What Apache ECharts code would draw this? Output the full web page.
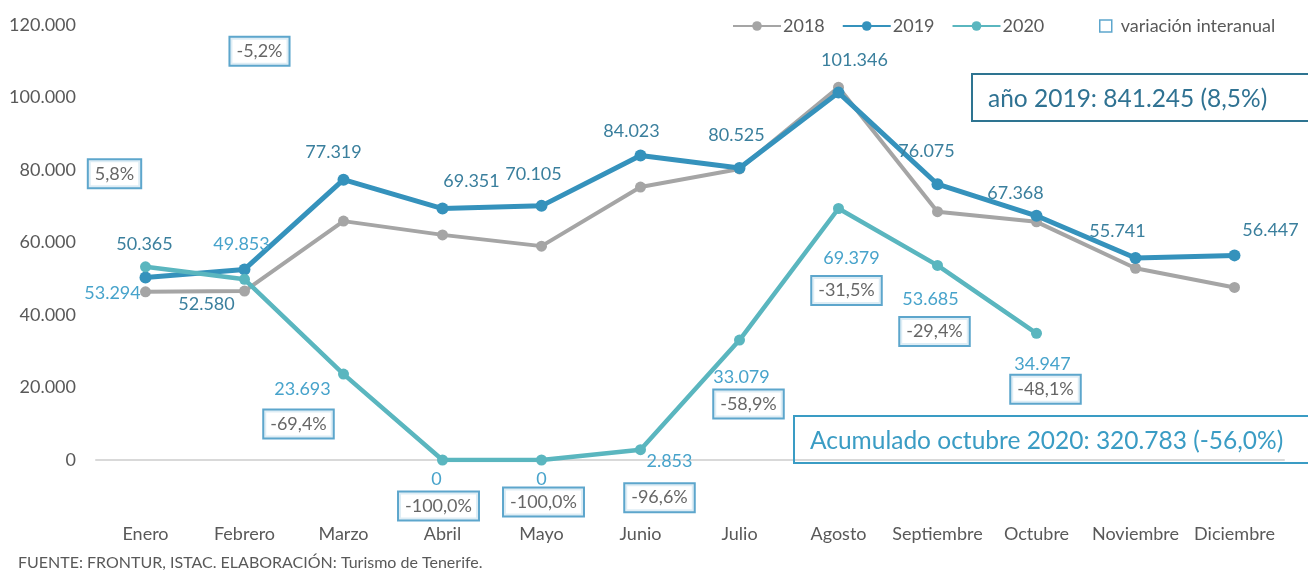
<!DOCTYPE html>
<html><head><meta charset="utf-8">
<script src="https://cdn.jsdelivr.net/npm/echarts@6/dist/echarts.min.js"></script>
<style>html,body{margin:0;padding:0;background:#fff}#c{width:1308px;height:570px}</style>
</head><body><div id="c"></div>
<script>
// ---- data ----
const months = ['Enero','Febrero','Marzo','Abril','Mayo','Junio','Julio','Agosto','Septiembre','Octubre','Noviembre','Diciembre'];
const v2018 = [46400, 46600, 65900, 62100, 59000, 75300, 80300, 102800, 68500, 65700, 52900, 47600];
const v2019 = [50365, 52580, 77319, 69351, 70105, 84023, 80525, 101346, 76075, 67368, 55741, 56447];
const v2020 = [53294, 49853, 23693, 0, 0, 2853, 33079, 69379, 53685, 34947];
const variacion = ['5,8%','-5,2%','-69,4%','-100,0%','-100,0%','-96,6%','-58,9%','-31,5%','-29,4%','-48,1%'];
const yMin = 0, yMax = 120000, yStep = 20000;
const total2019 = 'año 2019: 841.245 (8,5%)';
const acum2020 = 'Acumulado octubre 2020: 320.783 (-56,0%)';
const source = 'FUENTE: FRONTUR, ISTAC. ELABORACIÓN: Turismo de Tenerife.';

// ---- layout (label offsets, px) ----
const off19 = [[-1,-33],[-38,35],[-10,-28],[29,-27],[-8,-32],[-9,-24],[-3,-33],[16,-32],[-11,-33],[-21,-23],[-18,-27],[36,-25]];
const off20 = [[-33,26],[-3,-35],[-41,15],[-6,19],[0,19],[29,12],[2,37],[13,50],[-7,34],[6,31]];
const offVar = [[-31,-93],[15,-228],[-45,50],[-4,46],[2,42],[19,48],[9,64],[8,82],[-3,66],[9,56]];

const FONT = 'Lato, "Open Sans", sans-serif';
const C18 = '#a5a5a5', C19 = '#3592bc', C20 = '#5ab6bf';
const fmt = v => String(v).replace(/\B(?=(\d{3})+(?!\d))/g, '.');

const chart = echarts.init(document.getElementById('c'), null, {renderer:'canvas'});
chart.setOption({
  animation: false,
  backgroundColor: '#fff',
  textStyle: {fontFamily: FONT},
  grid: {left: 96, right: 24, top: 25, bottom: 110, containLabel: false},
  legend: [{
    left: 727, top: 12, itemWidth: 48, itemHeight: 12, itemGap: 17,
    data: ['2018','2019','2020'],
    textStyle: {fontSize: 18, color: '#595959', fontFamily: FONT, padding: [0,0,0,-3]}
  },{
    left: 1094, top: 12, itemWidth: 12, itemHeight: 12,
    data: [{name: 'variación interanual', icon: 'rect', itemStyle: {color: '#fff', borderColor: '#3590bf', borderWidth: 1.5}}],
    textStyle: {fontSize: 18, color: '#595959', fontFamily: FONT, padding: [0,0,0,4]}
  }],
  xAxis: {
    type: 'category', data: months, boundaryGap: true,
    axisLine: {show: true, lineStyle: {color: '#d9d9d9', width: 2}},
    axisTick: {show: false},
    axisLabel: {margin: 65, fontSize: 18, color: '#595959', fontFamily: FONT, interval: 0}
  },
  yAxis: {
    type: 'value', min: yMin, max: yMax, interval: yStep,
    axisLine: {show: false}, axisTick: {show: false}, splitLine: {show: false},
    axisLabel: {margin: 20, fontSize: 18, color: '#595959', fontFamily: FONT, formatter: fmt}
  },
  series: [
    {
      name: '2018', type: 'line', data: v2018, symbol: 'circle', symbolSize: 11,
      lineStyle: {color: C18, width: 4}, itemStyle: {color: C18}, emphasis: {disabled: true}, z: 2
    },
    {
      name: '2019', type: 'line', data: v2019.map((v,i) => ({value: v, label: {offset: off19[i]}})),
      symbol: 'circle', symbolSize: 12,
      lineStyle: {color: C19, width: 5}, itemStyle: {color: C19}, emphasis: {disabled: true}, z: 3,
      label: {show: true, position: 'inside', fontSize: 18, color: '#3a7f9d', fontFamily: FONT, formatter: p => fmt(p.value)}
    },
    {
      name: '2020', type: 'line', data: v2020.map((v,i) => ({value: v, label: {offset: off20[i]}})),
      symbol: 'circle', symbolSize: 11,
      lineStyle: {color: C20, width: 4.5}, itemStyle: {color: C20}, emphasis: {disabled: true}, z: 4,
      label: {show: true, position: 'inside', fontSize: 18, color: '#47a3cb', fontFamily: FONT, formatter: p => fmt(p.value)}
    },
    {
      name: 'variación interanual', type: 'scatter', symbolSize: 0, z: 6,
      data: v2020.map((v,i) => ({value: v, label: {offset: offVar[i]}})),
      itemStyle: {color: '#fff', borderColor: '#3590bf'},
      emphasis: {disabled: true},
      label: {
        show: true, position: 'inside', fontSize: 18, color: '#404040', fontFamily: FONT,
        borderColor: '#3590bf', borderWidth: 2, padding: [5,6,4,6], backgroundColor: '#fff',
        formatter: p => variacion[p.dataIndex]
      }
    }
  ],
  graphic: [
    {type: 'rect', shape: {x: 972, y: 74, width: 360, height: 47}, style: {fill: 'none', stroke: '#2e7491', lineWidth: 2}, z: 10},
    {type: 'text', x: 988, y: 99, style: {text: total2019, font: '24.5px ' + FONT, fill: '#2f7292', textVerticalAlign: 'middle'}, z: 11},
    {type: 'rect', shape: {x: 794, y: 416, width: 540, height: 47}, style: {fill: 'none', stroke: '#3a9cc4', lineWidth: 2}, z: 10},
    {type: 'text', x: 810, y: 441, style: {text: acum2020, font: '24.5px ' + FONT, fill: '#3a9cc4', textVerticalAlign: 'middle'}, z: 11},
    {type: 'text', x: 18, y: 563, style: {text: source, font: '16px ' + FONT, fill: '#595959', textVerticalAlign: 'middle'}, z: 11}
  ]
});
</script>
</body></html>
